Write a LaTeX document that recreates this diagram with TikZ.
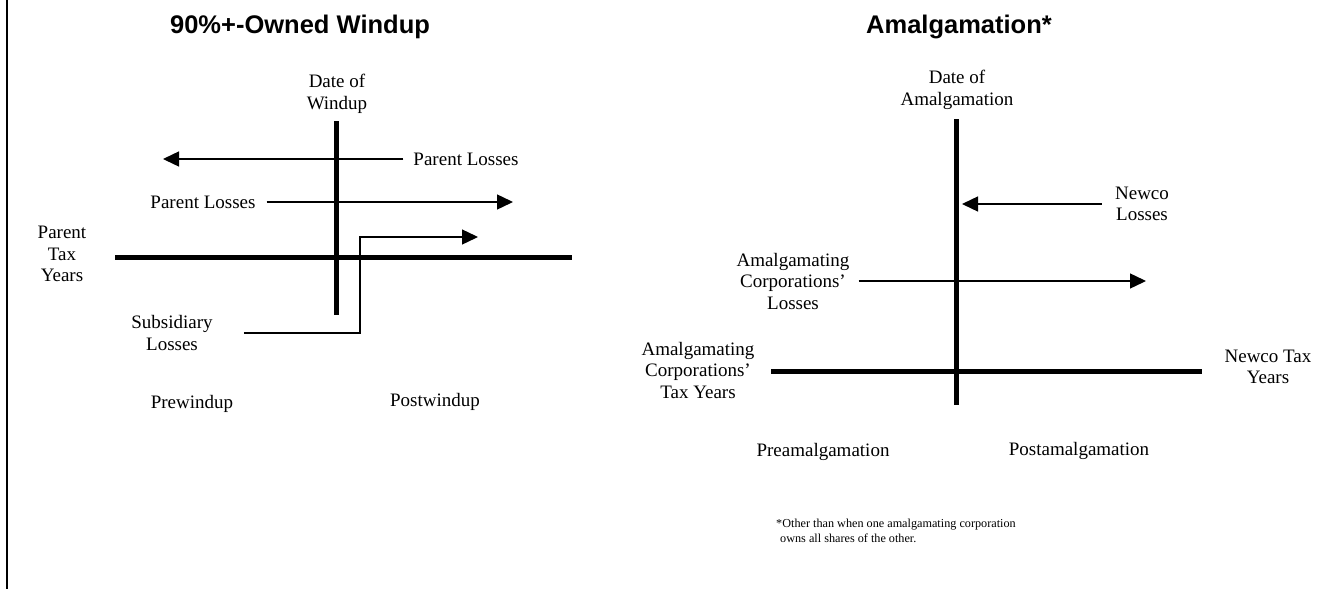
\documentclass[tikz,border=0pt]{standalone}
\usepackage{fontspec}
\setmainfont{Liberation Serif}
\setsansfont{Liberation Sans}
\usetikzlibrary{arrows.meta}

\tikzset{
    lbl/.style={font=\fontsize{19}{21.5}\selectfont, align=center, inner sep=0pt},
    ttl/.style={font=\fontsize{25.5}{30}\selectfont\sffamily\bfseries, inner sep=0pt},
    note/.style={font=\fontsize{12.2}{15}\selectfont, align=left, inner sep=0pt},
    axis/.style={line width=5pt},
    flow/.style={line width=1.4pt, -{Triangle[length=16pt,width=15pt]}},
}

\begin{document}
\begin{tikzpicture}[x=1pt, y=-1pt]
        \useasboundingbox (0, 0) rectangle (1339, 589);
        \draw[line width=2pt] (7, 0) -- (7, 589);

        % 90%+-owned windup
        \node[ttl] (wtitle) at (300, 27) {90\%+-Owned Windup};
        \node[lbl] (wdate)  at (337, 94) {Date of\\Windup};
        \node[lbl] (ptax)   at (62, 254) {Parent\\Tax\\Years};
        \node[lbl] (pl1)    at (466, 159) {Parent Losses};
        \node[lbl] (pl2)    at (203, 202) {Parent Losses};
        \node[lbl] (sub)    at (172, 333) {Subsidiary\\Losses};
        \node[lbl] (prew)   at (192, 404) {Prewindup};
        \node[lbl] (postw)  at (435, 402) {Postwindup};

        \coordinate (wtop)  at (336, 121);
        \coordinate (wbot)  at (336, 315);
        \coordinate (wleft) at (115, 257);
        \coordinate (wright) at (572, 257);
        \coordinate (pl1tip) at (163, 159);
        \coordinate (pl2tip) at (513, 202);
        \coordinate (subtip) at (478, 237);

        \draw[axis] (wtop) -- (wbot);
        \draw[axis] (wleft) -- (wright);
        \draw[flow] ([xshift=-10pt]pl1.west) -- (pl1tip);
        \draw[flow] ([xshift=11pt]pl2.east) -- (pl2tip);
        \draw[flow] ([xshift=31pt]sub.east) -| ([xshift=-118pt]subtip) -- (subtip);

        % amalgamation
        \node[ttl] (atitle) at (959, 27) {Amalgamation*};
        \node[lbl] (adate)  at (957, 90) {Date of\\Amalgamation};
        \node[lbl] (newco)  at (1142, 204) {Newco\\Losses};
        \node[lbl] (acl)    at (793, 281) {Amalgamating\\Corporations’\\Losses};
        \node[lbl] (act)    at (698, 370) {Amalgamating\\Corporations’\\Tax Years};
        \node[lbl] (ntax)   at (1268, 367) {Newco Tax\\Years};
        \node[lbl] (prea)   at (823, 452) {Preamalgamation};
        \node[lbl] (posta)  at (1079, 451) {Postamalgamation};
        \node[note, anchor=north west] (fn) at (776, 519)
            {*Other than when one amalgamating corporation\\\hspace*{4pt}owns all shares of the other.};

        \coordinate (atop)  at (956, 119);
        \coordinate (abot)  at (956, 405);
        \coordinate (aleft) at (771, 371);
        \coordinate (aright) at (1202, 371);
        \coordinate (newtip) at (962, 204);
        \coordinate (acltip) at (1146, 281);

        \draw[axis] (atop) -- (abot);
        \draw[axis] (aleft) -- (aright);
        \draw[flow] ([xshift=-13pt]newco.west) -- (newtip);
        \draw[flow] ([xshift=9pt]acl.east) -- (acltip);
\end{tikzpicture}
\end{document}
